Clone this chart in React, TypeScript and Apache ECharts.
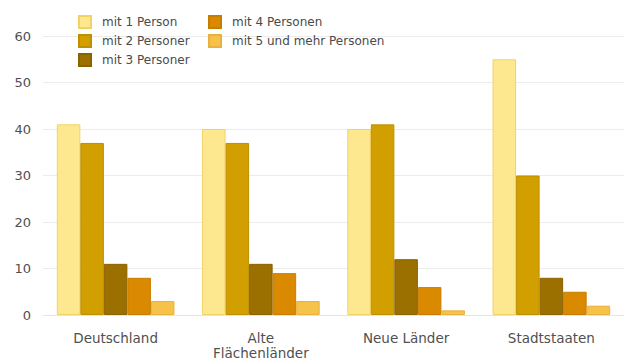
import React, { useEffect, useRef } from "react";
import * as echarts from "echarts";

const categories = ["Deutschland", "Alte\nFlächenländer", "Neue Länder", "Stadtstaaten"];
const seriesNames = [
  "mit 1 Person",
  "mit 2 Personer",
  "mit 3 Personer",
  "mit 4 Personen",
  "mit 5 und mehr Personen",
];
const onePerson = [41, 40, 40, 55];
const twoPersons = [37, 37, 41, 30];
const threePersons = [11, 11, 12, 8];
const fourPersons = [8, 9, 6, 5];
const fivePlusPersons = [3, 3, 1, 2];
const colors = ["#fde890", "#d19f00", "#9b6f00", "#d98a00", "#f6c24a"];
const borders = ["#f2d264", "#c08f00", "#8a6200", "#c97d00", "#e9b23c"];

export default function App() {
  const ref = useRef<HTMLDivElement>(null);
  useEffect(() => {
    if (!ref.current) return;
    const chart = echarts.init(ref.current, null, { renderer: "svg" });
    const values = [onePerson, twoPersons, threePersons, fourPersons, fivePlusPersons];
    const legendText = {
      fontFamily: "DejaVu Sans",
      fontSize: 12,
      color: "#4a4a4a",
      padding: [0, 0, 0, 6],
    };
    const legendBase = {
      orient: "vertical",
      top: 15,
      padding: 0,
      itemWidth: 12,
      itemHeight: 12,
      itemGap: 5,
      textStyle: legendText,
      icon: "rect",
    };
    chart.setOption({
      animation: false,
      textStyle: { fontFamily: "DejaVu Sans" },
      legend: [
        { ...legendBase, data: seriesNames.slice(0, 3), left: 78 },
        { ...legendBase, data: seriesNames.slice(3), left: 208 },
      ],
      grid: { left: 43, right: 0, top: 36, bottom: 46 },
      xAxis: {
        type: "category",
        data: categories,
        axisTick: { show: false },
        axisLine: { lineStyle: { color: "#e4e4e4" } },
        axisLabel: {
          fontFamily: "DejaVu Sans",
          fontSize: 13.5,
          color: "#505050",
          margin: 15,
          lineHeight: 15,
        },
      },
      yAxis: {
        type: "value",
        min: 0,
        max: 60,
        interval: 10,
        splitLine: { lineStyle: { color: "#ececec" } },
        axisLabel: { fontFamily: "DejaVu Sans", fontSize: 13, color: "#505050", margin: 12 },
      },
      series: seriesNames.map((name, i) => ({
        name,
        type: "bar",
        data: values[i],
        barGap: "0%",
        barCategoryGap: "19%",
        itemStyle: { color: colors[i], borderColor: borders[i], borderWidth: 1 },
      })),
    });
    return () => chart.dispose();
  }, []);
  return (
    <div
      ref={ref}
      style={{ position: "absolute", left: 0, top: 0, width: 624, height: 361 }}
    />
  );
}
